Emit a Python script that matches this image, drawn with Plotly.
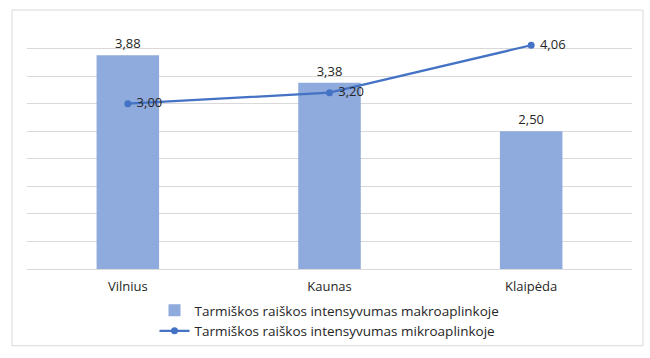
import plotly.graph_objects as go

categories = ["Vilnius", "Kaunas", "Klaipėda"]
macro = [3.88, 3.38, 2.50]
micro = [3.00, 3.20, 4.06]
macro_labels = ["3,88", "3,38", "2,50"]
micro_labels = ["\u00a03,00", "\u00a03,20", "\u00a04,06"]
name_macro = "Tarmiškos raiškos intensyvumas makroaplinkoje"
name_micro = "Tarmiškos raiškos intensyvumas mikroaplinkoje"

FONT = "Open Sans"
TXT = "#262626"

fig = go.Figure()
fig.add_trace(go.Bar(
    x=categories, y=macro, name=name_macro,
    marker=dict(color="#8FAADC", line=dict(width=0)),
    width=0.31,
    text=macro_labels, textposition="outside", cliponaxis=False,
    textfont=dict(family=FONT, size=13, color=TXT),
))
fig.add_trace(go.Scatter(
    x=categories, y=micro, name=name_micro,
    mode="lines+markers+text",
    line=dict(color="#4472C4", width=2.25),
    marker=dict(color="#4472C4", size=7),
    text=micro_labels, textposition="middle right", cliponaxis=False,
    textfont=dict(family=FONT, size=13, color=TXT),
))

L, R, T, B = 27, 18, 21, 88
pw = 650 - L - R
ph = 358 - T - B
def px(x): return (x - L) / pw
def py(y): return (358 - B - y) / ph

fig.add_shape(type="rect", xref="paper", yref="paper",
              x0=px(12), x1=px(643), y0=py(347), y1=py(10),
              line=dict(color="#D9D9D9", width=1), fillcolor="rgba(0,0,0,0)", layer="below")

fig.update_layout(
    width=650, height=358,
    margin=dict(l=L, r=R, t=T, b=B),
    paper_bgcolor="white", plot_bgcolor="white",
    font=dict(family=FONT, size=13, color=TXT),
    bargap=0.69,
    showlegend=True,
    legend=dict(orientation="v", x=0.5, xanchor="center", y=py(295), yanchor="top",
                font=dict(family=FONT, size=13.5, color=TXT),
                itemwidth=30, tracegroupgap=0, bgcolor="rgba(0,0,0,0)"),
    xaxis=dict(showgrid=False, showline=True, linecolor="#D9D9D9", linewidth=1,
               ticks="", ticklabelstandoff=5,
               tickfont=dict(family=FONT, size=13, color=TXT)),
    yaxis=dict(range=[0, 4.5], dtick=0.5, showgrid=True, gridcolor="#D9D9D9",
               gridwidth=1, showticklabels=False, zeroline=False, showline=False),
)

fig.write_html("out.html")
